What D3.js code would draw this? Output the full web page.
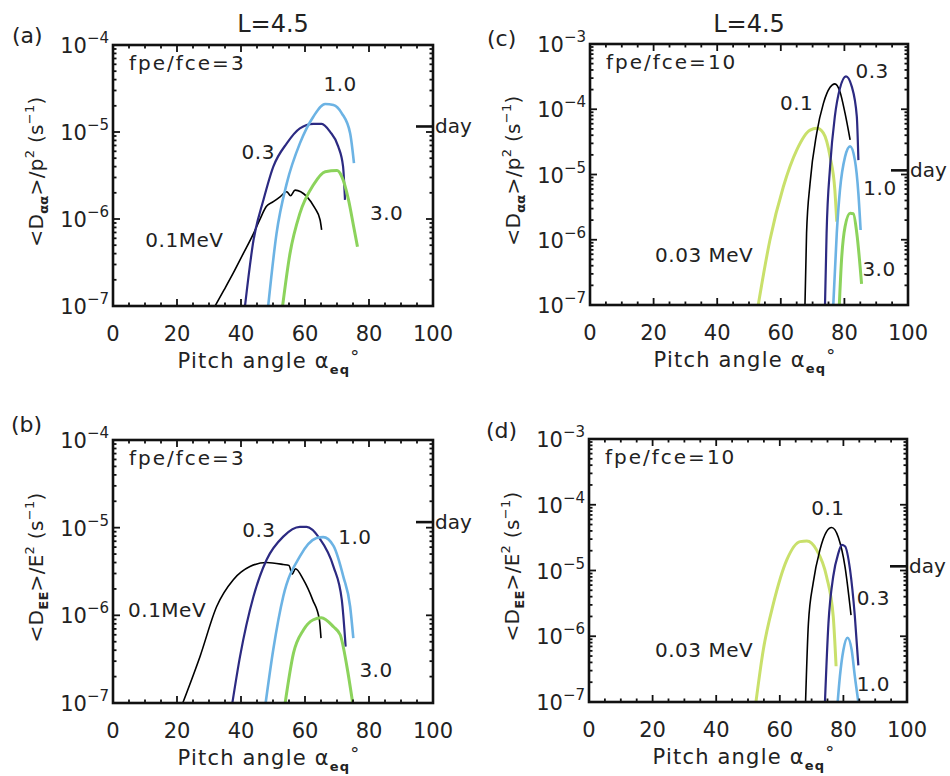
<!DOCTYPE html>
<html>
<head>
<meta charset="utf-8">
<script src="https://cdn.jsdelivr.net/npm/d3@7"></script>
<style>
  body { margin: 0; background: #fff; }
  svg text { font-family: "DejaVu Sans", sans-serif; fill: #222; }
</style>
</head>
<body>
<div id="chart"></div>
<script>
// pitch angle (deg), <D>/p^2 or <D>/E^2 (s^-1)
const ENERGY_COLORS = {
    "0.03": "#c9e06b",
    "0.1": "#000000",
    "0.3": "#2c2a82",
    "1.0": "#6cb3e4",
    "3.0": "#8cd35c"
};
const ENERGY_WIDTHS = { "0.03": 3, "0.1": 1.6, "0.3": 2.2, "1.0": 2.6, "3.0": 3 };

const DAY_RATE = 1 / 86400;
const xTicks = [0, 20, 40, 60, 80, 100];

// panel (a): Daa/p^2, fpe/fce=3
const a_e01 = [[31.9,1e-7],[34.7,1.53e-7],[37.6,2.4e-7],[40.7,4.0e-7],[43.9,6.8e-7],[45.8,9.7e-7],[47.9,1.39e-6],[50.1,1.58e-6],[52.2,1.8e-6],[54.3,2.06e-6],[55.5,1.85e-6],[56.9,2.15e-6],[60.5,1.82e-6],[63.1,1.33e-6],[64.7,9.8e-7],[65.2,7.5e-7]];
const a_e03 = [[41.25,1e-7],[43.9,5.7e-7],[47.0,1.65e-6],[50.1,4.0e-6],[54.3,7.4e-6],[58.4,1.1e-5],[62.6,1.24e-5],[65.2,1.24e-5],[67.8,1.01e-5],[70.4,6.8e-6],[71.9,4.0e-6],[72.5,1.66e-6]];
const a_e10 = [[48.5,1e-7],[51.1,6.8e-7],[54.3,2.57e-6],[58.4,7.4e-6],[62.6,1.5e-5],[66.3,2.1e-5],[68.9,2.04e-5],[71.5,1.64e-5],[74.1,9.7e-6],[75.3,4.4e-6]];
const a_e30 = [[53.0,1e-7],[55.3,4.0e-7],[58.4,1.16e-6],[62.6,2.46e-6],[66.3,3.5e-6],[70.0,3.6e-6],[71.5,3.07e-6],[73.6,1.66e-6],[75.2,8.2e-7],[76.4,4.8e-7]];

// panel (b): DEE/E^2, fpe/fce=3
const b_e01 = [[21.8,1e-7],[27.2,3.4e-7],[32.4,1.26e-6],[37.6,2.55e-6],[42.8,3.6e-6],[48.0,4.0e-6],[53.2,3.8e-6],[55.0,3.7e-6],[56.0,2.95e-6],[57.0,3.4e-6],[59.5,2.55e-6],[62.4,1.5e-6],[64.5,8.9e-7],[65.0,5.5e-7]];
const b_e03 = [[37.3,1e-7],[39.7,3.4e-7],[43.9,1.64e-6],[48.0,4.3e-6],[53.2,7.9e-6],[58.4,1.02e-5],[60.5,1.02e-5],[64.5,7.6e-6],[68.9,3.6e-6],[71.5,1.5e-6],[72.7,4.4e-7]];
const b_e10 = [[47.7,1e-7],[50.1,4.1e-7],[53.2,1.64e-6],[58.4,4.7e-6],[63.6,7.6e-6],[65.7,7.8e-6],[68.9,6.2e-6],[72.0,2.75e-6],[74.1,1.26e-6],[75.1,5.5e-7]];
const b_e30 = [[53.8,1e-7],[56.4,3.7e-7],[59.5,6.8e-7],[62.6,8.9e-7],[65.1,9.4e-7],[68.9,7.4e-7],[71.0,6.0e-7],[73.1,2.6e-7],[74.9,1e-7]];

// panel (c): Daa/p^2, fpe/fce=10
const c_e003 = [[52.9,1e-7],[56.6,1.0e-6],[60.8,6.5e-6],[65.0,2.37e-5],[69.2,4.8e-5],[71.3,5.1e-5],[73.4,4.3e-5],[75.5,1.87e-5],[77.0,5.75e-6],[77.6,1.9e-6]];
const c_e01 = [[67.6,1e-7],[68.1,1.26e-6],[69.2,7.3e-6],[71.3,4.3e-5],[73.4,1.23e-4],[75.5,2.17e-4],[77.0,2.45e-4],[78.6,1.86e-4],[80.2,8.7e-5],[81.8,3.4e-5]];
const c_e03 = [[73.9,1e-7],[74.4,1.26e-6],[75.5,1.32e-5],[77.0,7.8e-5],[78.6,2.1e-4],[80.5,3.2e-4],[82.3,2.24e-4],[83.9,7.8e-5],[84.4,1.66e-5]];
const c_e10 = [[76.5,1e-7],[77.6,1.26e-6],[78.6,5.75e-6],[80.2,1.86e-5],[81.8,2.7e-5],[83.3,1.66e-5],[84.4,5.1e-6],[85.1,1.41e-6]];
const c_e30 = [[78.4,1e-7],[79.1,4.9e-7],[80.2,1.58e-6],[81.8,2.54e-6],[82.8,2.5e-6],[83.9,1.26e-6],[85.4,2.1e-7]];

// panel (d): DEE/E^2, fpe/fce=10
const d_e003 = [[52.5,1e-7],[54.8,6.2e-7],[58.0,3.16e-6],[62.2,1.45e-5],[66.4,2.75e-5],[68.5,2.8e-5],[71.6,2.04e-5],[74.7,8.1e-6],[76.8,2.0e-6],[77.7,3.5e-7]];
const d_e01 = [[68.1,1e-7],[69.0,1.58e-6],[70.5,6.5e-6],[72.6,2.04e-5],[74.7,3.9e-5],[76.3,4.5e-5],[78.4,3.2e-5],[80.5,1.15e-5],[82.4,2.1e-6]];
const d_e03 = [[74.2,1e-7],[75.3,1.58e-6],[76.8,8.1e-6],[78.4,1.82e-5],[79.5,2.45e-5],[80.5,2.34e-5],[82.1,1.02e-5],[83.6,2.0e-6],[84.7,3.6e-7]];
const d_e10 = [[78.2,1e-7],[78.9,2.45e-7],[80.0,6.2e-7],[81.3,9.5e-7],[82.6,6.2e-7],[83.6,2.45e-7],[84.7,1e-7]];

// curve labels: text, angle, value
const a_labels = [["1.0",71,3.6e-5],["0.3",45.4,5.9e-6],["0.1MeV",22.3,5.75e-7],["3.0",85.5,1.17e-6]];
const b_labels = [["0.3",45.6,9.5e-6],["1.0",75.6,7.9e-6],["0.1MeV",16.9,1.15e-6],["3.0",82.2,2.4e-7]];
const c_labels = [["0.3",88.7,3.8e-4],["0.1",65.0,1.23e-4],["1.0",91.2,6.2e-6],["3.0",90.9,3.5e-7],["0.03 MeV",35.9,5.9e-7]];
const d_labels = [["0.1",75.1,8.9e-5],["0.3",89.4,3.8e-6],["1.0",89.4,1.9e-7],["0.03 MeV",36.2,6.2e-7]];

const CTX = { W: 950, H: 776 };

const PANELS = [
    { tag: "(a)", kind: "aa", fpe: "fpe/fce=3", top: true, x0: 113, x1: 433, y0: 45, y1: 306, ymax: 1e-4,
      tagPos: [12, 43], curves: [["0.1", a_e01], ["0.3", a_e03], ["1.0", a_e10], ["3.0", a_e30]], labels: a_labels },
    { tag: "(b)", kind: "EE", fpe: "fpe/fce=3", top: false, x0: 113, x1: 433, y0: 440, y1: 703, ymax: 1e-4,
      tagPos: [11, 432], curves: [["0.1", b_e01], ["0.3", b_e03], ["1.0", b_e10], ["3.0", b_e30]], labels: b_labels },
    { tag: "(c)", kind: "aa", fpe: "fpe/fce=10", top: true, x0: 590, x1: 908, y0: 44, y1: 305, ymax: 1e-3,
      tagPos: [487, 46], curves: [["0.03", c_e003], ["0.1", c_e01], ["0.3", c_e03], ["1.0", c_e10], ["3.0", c_e30]], labels: c_labels },
    { tag: "(d)", kind: "EE", fpe: "fpe/fce=10", top: false, x0: 589, x1: 907, y0: 439, y1: 702, ymax: 1e-3,
      tagPos: [486, 438], curves: [["0.03", d_e003], ["0.1", d_e01], ["0.3", d_e03], ["1.0", d_e10]], labels: d_labels }
];

const svg = d3.select("#chart").append("svg")
    .attr("width", CTX.W)
    .attr("height", CTX.H);

function drawPanel(p, i) {
    const x = d3.scaleLinear().domain([0, 100]).range([p.x0, p.x1]);
    const y = d3.scaleLog().domain([1e-7, p.ymax]).range([p.y1, p.y0]);
    const g = svg.append("g").attr("class", "panel");

    // clip
    const clipId = "clip" + i;
    g.append("clipPath").attr("id", clipId)
        .append("rect")
        .attr("x", p.x0).attr("y", p.y0)
        .attr("width", p.x1 - p.x0).attr("height", p.y1 - p.y0);

    // curves
    const line = d3.line()
        .x(d => x(d[0]))
        .y(d => y(d[1]))
        .curve(d3.curveMonotoneX);
    const cg = g.append("g").attr("clip-path", `url(#${clipId})`);
    p.curves.forEach(function (c) {
        cg.append("path")
            .attr("d", line(c[1]))
            .attr("fill", "none")
            .attr("stroke", ENERGY_COLORS[c[0]])
            .attr("stroke-width", ENERGY_WIDTHS[c[0]])
            .attr("stroke-linejoin", "round");
    });

    // x ticks (minor every 5, inward, top + bottom)
    const xMinor = d3.range(0, 101, 5);
    xMinor.forEach(function (v) {
        let len = (v % 20 === 0) ? 7 : 3.5;
        if (v === 0 || v === 100) return;
        g.append("line").attr("x1", x(v)).attr("x2", x(v))
            .attr("y1", p.y1).attr("y2", p.y1 - len)
            .attr("stroke", "#111").attr("stroke-width", 1.8);
        g.append("line").attr("x1", x(v)).attr("x2", x(v))
            .attr("y1", p.y0).attr("y2", p.y0 + len)
            .attr("stroke", "#111").attr("stroke-width", 1.8);
    });

    // y ticks (log, minor 2..9)
    y.ticks().forEach(function (v) {
        const lg = Math.log10(v);
        const major = Math.abs(lg - Math.round(lg)) < 1e-9;
        const len = major ? 7 : 3.5;
        const yy = y(v);
        if (Math.abs(yy - p.y0) < 0.5 || Math.abs(yy - p.y1) < 0.5) return;
        g.append("line").attr("x1", p.x0).attr("x2", p.x0 + len)
            .attr("y1", yy).attr("y2", yy)
            .attr("stroke", "#111").attr("stroke-width", 1.8);
        g.append("line").attr("x1", p.x1).attr("x2", p.x1 - len)
            .attr("y1", yy).attr("y2", yy)
            .attr("stroke", "#111").attr("stroke-width", 1.8);
    });

    // frame
    g.append("rect")
        .attr("x", p.x0).attr("y", p.y0)
        .attr("width", p.x1 - p.x0).attr("height", p.y1 - p.y0)
        .attr("fill", "none").attr("stroke", "#111").attr("stroke-width", 2.6);

    // y tick labels 10^n
    const decades = y.ticks().filter(v => Math.abs(Math.log10(v) - Math.round(Math.log10(v))) < 1e-9);
    decades.forEach(function (v) {
        const t = g.append("text")
            .attr("x", p.x0 - 4)
            .attr("y", y(v) + 8)
            .attr("text-anchor", "end")
            .style("font-size", "21px");
        t.append("tspan").text("10");
        t.append("tspan").attr("dy", -10).style("font-size", "15px")
            .text("\u2212" + Math.abs(Math.round(Math.log10(v))));
    });

    // x tick labels
    xTicks.forEach(function (v) {
        g.append("text")
            .attr("x", x(v)).attr("y", p.y1 + 35)
            .attr("text-anchor", "middle")
            .style("font-size", "21px")
            .text(v);
    });

    // x title
    const xt = g.append("text")
        .attr("x", (p.x0 + p.x1) / 2 - 4)
        .attr("y", p.y1 + 62)
        .attr("text-anchor", "middle")
        .style("font-size", "21px")
        .style("letter-spacing", "1.2px");
    xt.append("tspan").text("Pitch angle \u03b1");
    xt.append("tspan").attr("dy", 6).style("font-size", "13px").style("font-weight", "bold").text("eq");
    xt.append("tspan").attr("dy", -11).style("font-size", "18px").text("\u00b0");

    // y title
    const yt = g.append("text")
        .attr("transform", `translate(${p.x0 - 70},${(p.y0 + p.y1) / 2 - 4}) rotate(-90)`)
        .attr("text-anchor", "middle")
        .style("font-size", "20px")
        .style("letter-spacing", "0.3px");
    yt.append("tspan").text("<D");
    yt.append("tspan").attr("dy", 5).style("font-size", "13px").style("font-weight", "bold")
        .text(p.kind === "aa" ? "\u03b1\u03b1" : "EE");
    yt.append("tspan").attr("dy", -5).text(p.kind === "aa" ? ">/p" : ">/E");
    yt.append("tspan").attr("dy", -9).style("font-size", "13px").text("2");
    yt.append("tspan").attr("dy", 9).text(" (s");
    yt.append("tspan").attr("dy", -9).style("font-size", "13px").text("\u22121");
    yt.append("tspan").attr("dy", 9).text(")");

    // panel tag
    g.append("text")
        .attr("x", p.tagPos[0]).attr("y", p.tagPos[1])
        .style("font-size", "22px")
        .text(p.tag);

    // top title
    if (p.top) {
        g.append("text")
            .attr("x", (p.x0 + p.x1) / 2).attr("y", 32)
            .attr("text-anchor", "middle")
            .style("font-size", "24px")
            .text("L=4.5");
    }

    // fpe/fce
    g.append("text")
        .attr("x", p.x0 + 16).attr("y", p.y0 + 25)
        .style("font-size", "20px")
        .style("letter-spacing", "2px")
        .text(p.fpe);

    // one day marker
    g.append("line")
        .attr("x1", p.x1 - 17).attr("x2", p.x1 + 1)
        .attr("y1", y(DAY_RATE)).attr("y2", y(DAY_RATE))
        .attr("stroke", "#111").attr("stroke-width", 2.6);
    g.append("text")
        .attr("x", p.x1 + 2).attr("y", y(DAY_RATE))
        .attr("dominant-baseline", "central")
        .style("font-size", "20px")
        .text("day");

    // curve labels
    p.labels.forEach(function (l) {
        g.append("text")
            .attr("x", x(l[1])).attr("y", y(l[2]))
            .attr("text-anchor", "middle")
            .attr("dominant-baseline", "central")
            .style("font-size", "20px")
            .style("letter-spacing", "0.5px")
            .text(l[0]);
    });
}

PANELS.forEach(drawPanel);
</script>
</body>
</html>
